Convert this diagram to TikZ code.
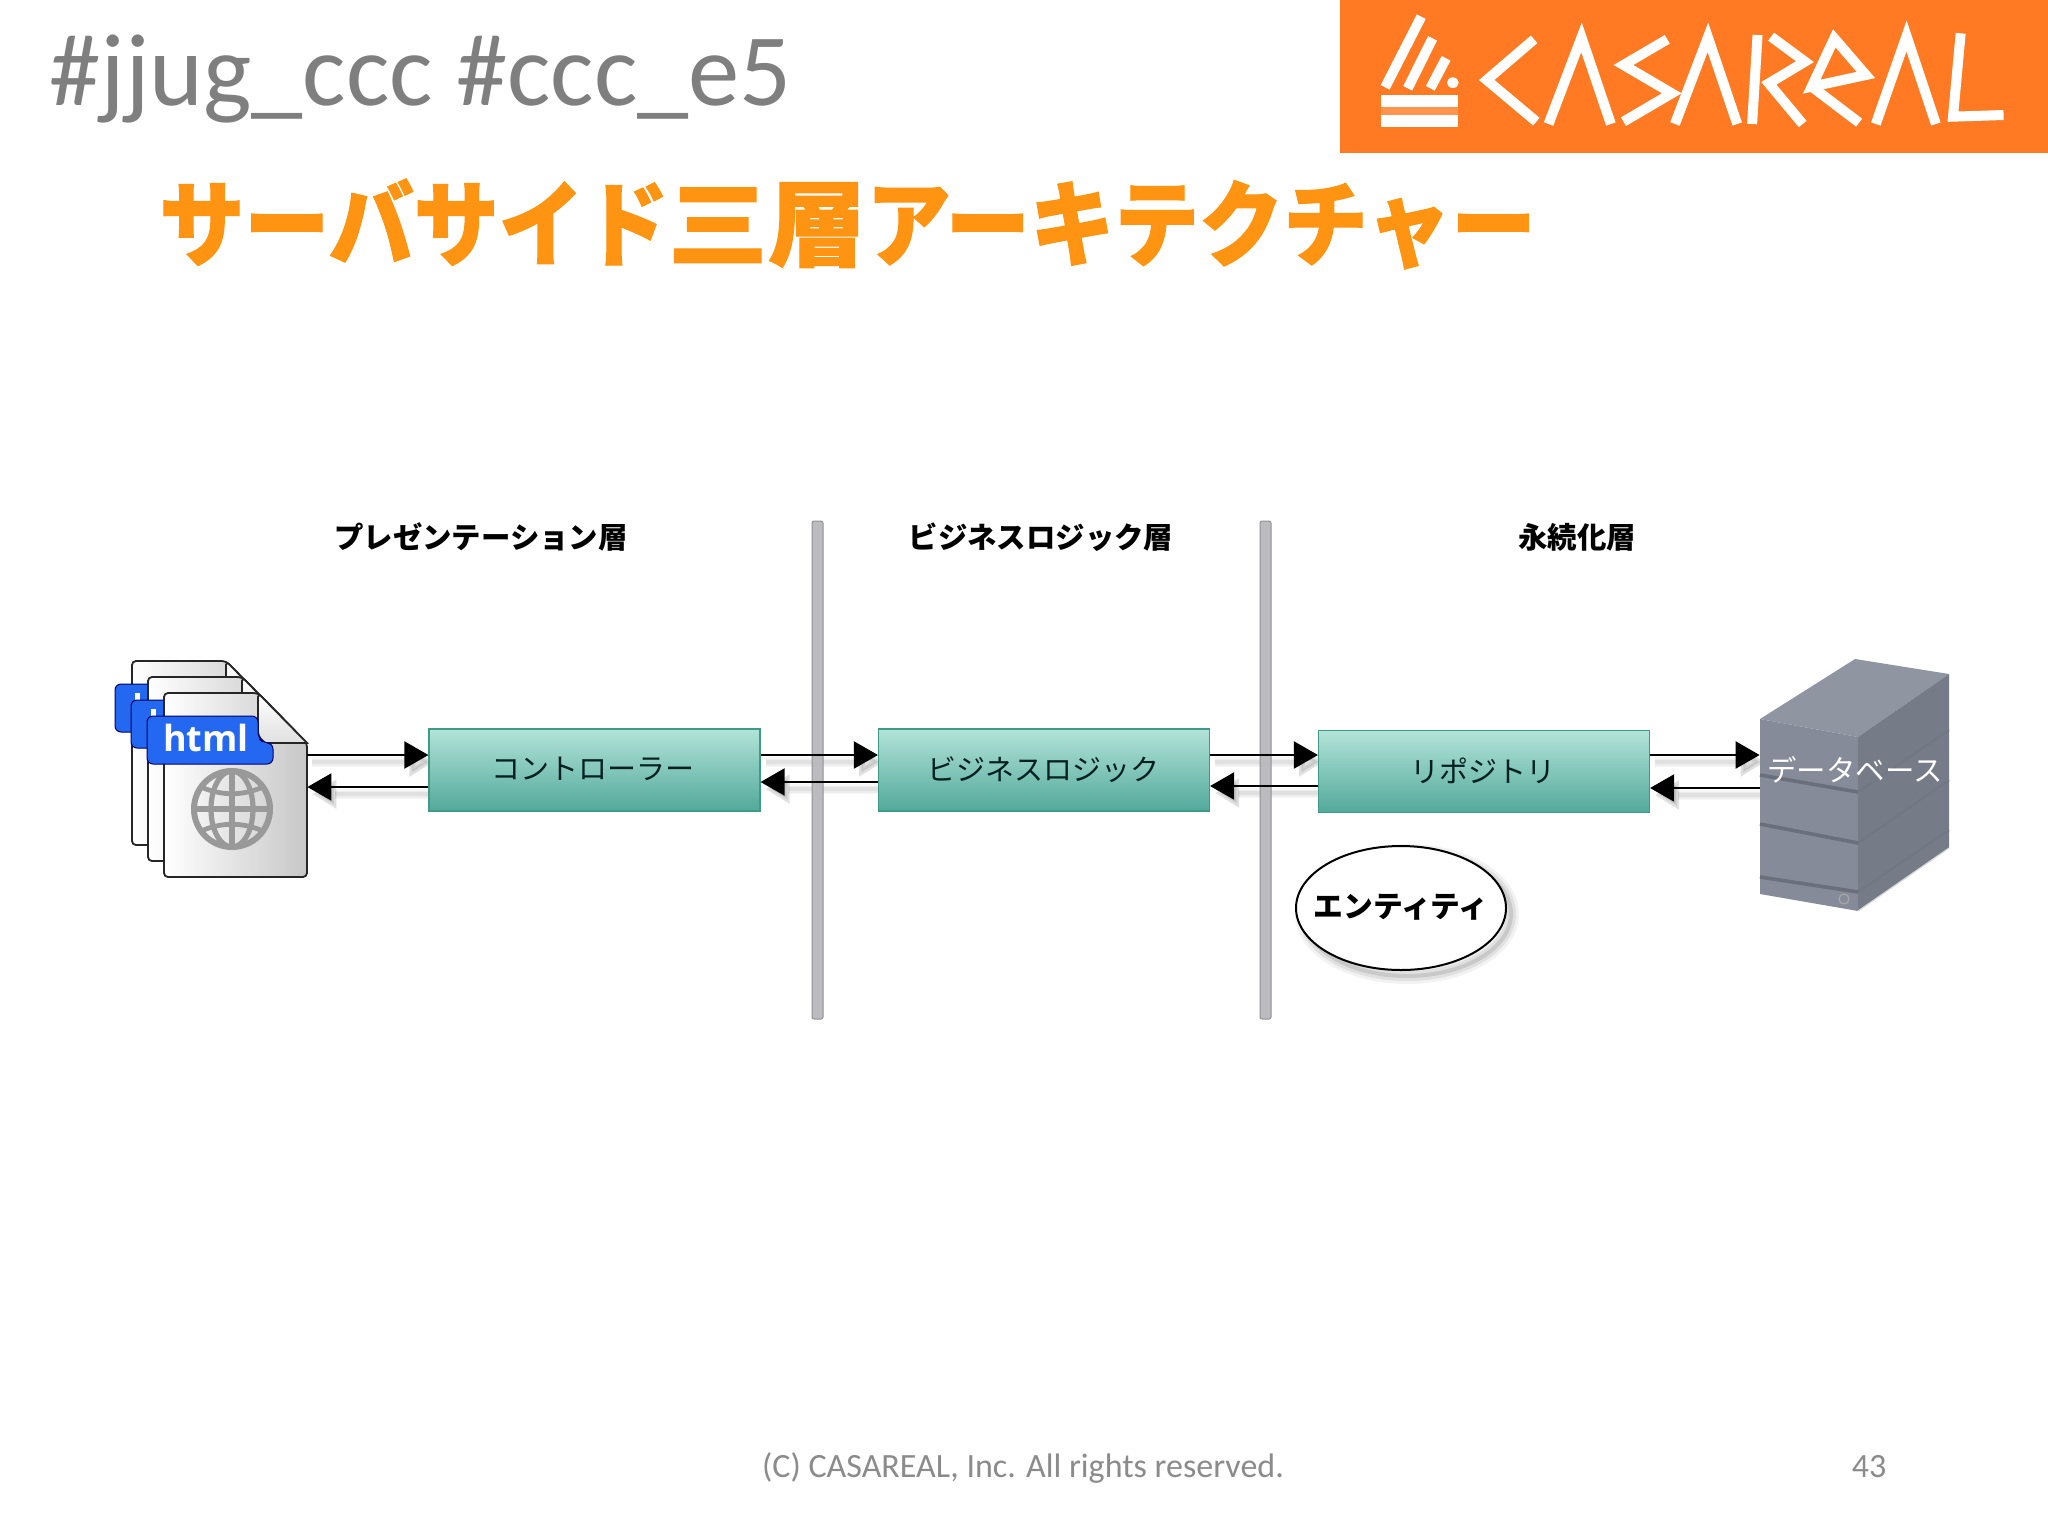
\documentclass[tikz,border=0pt]{standalone}
\usepackage{fontspec}
\usepackage{graphicx}
\setmainfont{Carlito}
\newfontfamily\jp{Noto Sans CJK JP}
\newfontfamily\jptitle[BoldFeatures={FakeBold=1.2}]{Noto Sans CJK JP}
\newfontfamily\htmlf{Open Sans}
\usetikzlibrary{arrows.meta,calc}
\pgfdeclarelayer{base}
\pgfdeclarelayer{shad}
\pgfsetlayers{base,shad,main}
\definecolor{orgtitle}{HTML}{FF9412}
\definecolor{orglogo}{HTML}{FF7A22}
\definecolor{boxtop}{HTML}{B3E3D8}
\definecolor{boxbot}{HTML}{52A99B}
\definecolor{boxline}{HTML}{3F9A86}
\definecolor{headgray}{HTML}{7F7F7F}
\definecolor{footgray}{HTML}{8B8B8B}
\definecolor{tagblue}{HTML}{2468F2}
\definecolor{barfill}{HTML}{BBBBBF}
\definecolor{barline}{HTML}{939397}
\definecolor{dbtop}{HTML}{8F96A2}
\definecolor{dbfront}{HTML}{858B98}
\definecolor{dbside}{HTML}{767B88}
\definecolor{dbband}{HTML}{6A6F7C}
\tikzset{
  tealbox/.style={rectangle,draw=boxline,line width=.6pt,top color=boxtop,bottom color=boxbot,minimum width=165.5pt,minimum height=41pt,inner sep=0pt,font=\jp\fontsize{14.5}{14.5}\selectfont,text=black!75!teal},
  layerlabel/.style={font=\jp\bfseries\fontsize{14.7}{14.7}\selectfont,text=black,inner sep=0pt},
  arr/.style={line width=1.1pt,draw=black,-{Triangle[length=12pt,width=13.5pt,fill=black]}},
  shadowline/.style={draw=black,-{Triangle[length=12pt,width=14pt,fill=black]}},
  divider/.style={draw=barline,fill=barfill,line width=.5pt,rounded corners=1pt},
  pageline/.style={draw=black!85,line width=.9pt,rounded corners=2pt},
  logostroke/.style={draw=white,line width=5pt,line join=miter,line cap=butt},
}
\newcommand{\conn}[2]{%
  \begin{pgfonlayer}{shad}
  \foreach \w/\o in {5/.03,3.5/.04,2/.05}{
    \draw[shadowline,line width=\w pt,opacity=\o] ($(#1)+(5,7)$) -- ($(#2)+(5,7)$);
  }
  \end{pgfonlayer}
  \draw[arr] (#1) -- (#2);
}
\newcommand{\filepage}[2]{%
  \begin{scope}[shift={(#1,#1)}]
    \path[pageline,left color=white,right color=black!22] (164,693) -- (258,693) -- (307,743) -- (307,877) -- (164,877) -- cycle;
    \path[draw=black!85,line width=.9pt,top color=white,bottom color=black!12] (258,693) -- (307,743) -- (265,743) [rounded corners=2pt] -- (258,736) -- cycle;
    \path[fill=tagblue,draw=blue!40!black,line width=.5pt,rounded corners=3pt] (147,716) -- (258,716) -- (258,738) -- (264,743) -- (273,743) -- (273,764) -- (147,764) -- cycle;
    #2
  \end{scope}
}
\begin{document}
\begin{tikzpicture}[x=.5pt,y=-.5pt]
\useasboundingbox (0,0) rectangle (2048,1536);
\begin{pgfonlayer}{base}
\fill[white] (0,0) rectangle (2048,1536);
\end{pgfonlayer}

% header
\node[anchor=base west,inner sep=0pt,text=headgray,font=\fontsize{51.3}{51.3}\selectfont] (tag) at (49,105) {\#jjug\_ccc \#ccc\_e5};
\fill[orglogo] (1340,0) rectangle (2048,153);
\begin{scope}[shift={(1340,0)},x=.2257pt,y=-.16667pt]
  \fill[white,opacity=.2] (90,322) rectangle (262,345);
  \fill[white] (90,285) rectangle (262,322);
  \fill[white] (90,345) rectangle (262,382);
  \draw[logostroke] (180,50) -- (100,262);
  \draw[logostroke] (205,115) -- (150,265);
  \draw[logostroke] (235,175) -- (200,265);
  \fill[white] (250,248) ellipse (13 and 16);
  \draw[logostroke] (430,118) -- (325,240) -- (435,365);
  \draw[logostroke] (462,372) -- (535,112) -- (600,372);
  \draw[logostroke] (725,118) -- (628,195) -- (735,280) -- (628,365);
  \draw[logostroke] (742,372) -- (815,112) -- (880,372);
  \draw[logostroke] (913,372) -- (925,105);
  \draw[logostroke] (955,110) -- (1030,185) -- (950,250) -- (1025,372);
  \draw[logostroke] (1045,260) -- (1095,115) -- (1165,225) -- cycle;
  \draw[logostroke] (1045,260) -- (1150,368);
  \draw[logostroke] (1187,372) -- (1255,108) -- (1320,372);
  \draw[logostroke] (1375,100) -- (1358,350) -- (1470,345);
\end{scope}

% title
\node[anchor=west,inner sep=0pt,text=orgtitle,font=\jptitle\bfseries\fontsize{43.3}{43.3}\selectfont] (title) at (159,224) {\scalebox{.982}[1.08]{サーバサイド}\scalebox{1.14}[1.08]{三層}\scalebox{.975}[1.08]{アーキテクチャー}};

% layer labels
\node[layerlabel] (lab1) at (481,537) {プレゼンテーション層};
\node[layerlabel] (lab2) at (1041,537) {ビジネスロジック層};
\node[layerlabel] (lab3) at (1577,537) {永続化層};

% dividers
\draw[divider] (812,521) rectangle (823,1019);
\draw[divider] (1260,521) rectangle (1271,1019);

% html files
\filepage{-32}{\fill[white] (167,725) rectangle (172,750);}
\filepage{-16}{\fill[white] (167,725) rectangle (172,750);}
\filepage{0}{}
\node[inner sep=0pt,text=white,font=\htmlf\bfseries\fontsize{18}{18}\selectfont] (html) at (206,738) {html};
\draw[line width=3pt,draw=black!40] (232,809) circle (38);
\draw[line width=3pt,draw=black!40] (232,771) -- (232,847) (194,809) -- (270,809);
\draw[line width=2.6pt,draw=black!40] (232,809) ellipse (21 and 38);
\draw[line width=2.4pt,draw=black!40] (201,787) .. controls (222,796) and (242,796) .. (263,787);
\draw[line width=2.4pt,draw=black!40] (201,831) .. controls (222,822) and (242,822) .. (263,831);
\node[inner sep=0pt,minimum width=71.5pt,minimum height=92pt] (files) at (235.5,785) {};

% boxes
\node[tealbox] (ctrl) at (594.5,770) {\raisebox{1.3pt}{\kern-2pt コントローラー}};
\node[tealbox] (logic) at (1044,770) {\kern-1pt ビジネスロジック};
\node[tealbox] (repo) at (1484,771.5) {\raisebox{1.3pt}{\kern-1pt リポジトリ}};

% entity
\foreach \w/\o in {8/.05,5/.07,2/.10}{
  \draw[black,opacity=\o,line width=\w pt] (1407,914) ellipse (104 and 62);
}
\draw[black,line width=1pt,fill=white] (1401,908) ellipse (105 and 62);
\node[inner sep=0pt,font=\jp\bfseries\fontsize{14.9}{14.9}\selectfont] (entity) at (1401,907) {エンティティ};

% database
\fill[dbtop] (1760,719) -- (1855,659) -- (1949,674) -- (1858,737) -- cycle;
\fill[dbfront] (1760,719) -- (1858,737) -- (1858,911) -- (1760,894) -- cycle;
\fill[dbside] (1858,737) -- (1949,674) -- (1949,848) -- (1858,911) -- cycle;
\draw[dbband,line width=1.8pt] (1760,775) -- (1858,792) (1760,824) -- (1858,843) (1760,877) -- (1858,892);
\draw[dbband!35!dbside,line width=1pt] (1858,792) -- (1949,730) (1858,843) -- (1949,780) (1858,892) -- (1949,830);
\draw[black!15,line width=.6pt] (1858,911) -- (1949,848);
\draw[black!35,line width=.6pt] (1844,899) circle (5);
\node[inner sep=0pt,minimum width=95pt,minimum height=20pt,text=white,font=\jp\fontsize{14.7}{14.7}\selectfont] (db) at (1855,770) {データベース};

% connectors
\conn{[yshift=15pt]files.east}{[yshift=7.5pt]ctrl.west}
\conn{[yshift=-8.5pt]ctrl.west}{[yshift=-1pt]files.east}
\conn{[yshift=7.5pt]ctrl.east}{[yshift=7.5pt]logic.west}
\conn{[yshift=-6pt]logic.west}{[yshift=-6pt]ctrl.east}
\conn{[yshift=7.5pt]logic.east}{[yshift=8.25pt]repo.west}
\conn{[yshift=-7.25pt]repo.west}{[yshift=-8pt]logic.east}
\conn{[yshift=8.25pt]repo.east}{[yshift=7.5pt]db.west}
\conn{[yshift=-9pt]db.west}{[yshift=-8.25pt]repo.east}

% footer
\node[anchor=base,inner sep=0pt,text=footgray,font=\fontsize{17}{17}\selectfont] (foot) at (1023,1477) {(C) CASAREAL, Inc. All rights reserved.};
\node[anchor=base,inner sep=0pt,text=footgray,font=\fontsize{17}{17}\selectfont] (pagenum) at (1869,1477) {43};
\end{tikzpicture}
\end{document}
